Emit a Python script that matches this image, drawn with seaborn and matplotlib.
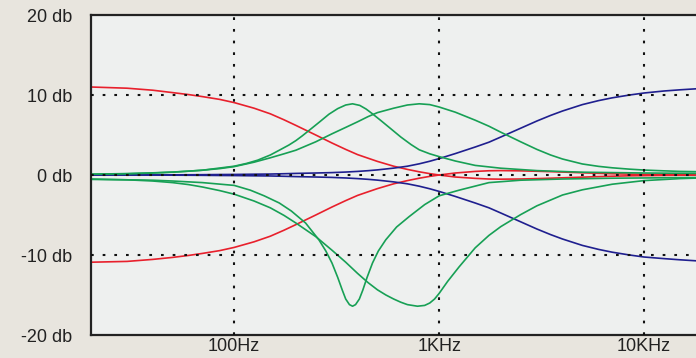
import matplotlib
matplotlib.use("Agg")
import matplotlib.pyplot as plt
from matplotlib.ticker import NullLocator
import pandas as pd
import seaborn as sns

# --- curve data: frequency in Hz, gain in dB ---
shelf_hz = [20, 30, 40, 50, 60, 70, 85, 100, 125, 150, 175, 200, 250, 300,
            350, 400, 450, 500, 600, 700, 800, 900, 1000, 1200, 1500, 1750,
            2000, 2500, 3000, 3500, 4000, 5000, 6000, 7000, 8500, 10000,
            12500, 15000, 20000]
low_boost = [11.0, 10.85, 10.6, 10.3, 10.05, 9.8, 9.45, 9.05, 8.35, 7.65, 6.9,
             6.2, 5.0, 4.0, 3.2, 2.55, 2.1, 1.7, 1.1, 0.7, 0.4, 0.17, 0.0,
             -0.25, -0.42, -0.5, -0.52, -0.5, -0.45, -0.4, -0.35, -0.27, -0.2,
             -0.15, -0.1, -0.08, -0.05, -0.03, 0.0]
low_cut = [-10.9, -10.8, -10.55, -10.3, -10.05, -9.8, -9.45, -9.05, -8.35,
           -7.65, -6.9, -6.2, -5.0, -4.0, -3.2, -2.55, -2.1, -1.7, -1.1, -0.7,
           -0.4, -0.17, 0.0, 0.25, 0.45, 0.53, 0.55, 0.52, 0.47, 0.42, 0.37,
           0.28, 0.21, 0.16, 0.11, 0.08, 0.05, 0.03, 0.0]
high_boost = [0.0, 0.0, 0.01, 0.02, 0.03, 0.04, 0.06, 0.07, 0.1, 0.12, 0.16,
              0.2, 0.25, 0.3, 0.37, 0.45, 0.54, 0.64, 0.86, 1.1, 1.4, 1.72,
              2.05, 2.68, 3.5, 4.1, 4.75, 5.85, 6.75, 7.45, 8.0, 8.8, 9.3,
              9.65, 10.0, 10.25, 10.5, 10.65, 10.85]
high_cut = [0.0, 0.0, -0.01, -0.02, -0.03, -0.04, -0.06, -0.07, -0.1, -0.12,
            -0.16, -0.2, -0.25, -0.3, -0.37, -0.45, -0.54, -0.64, -0.86, -1.1,
            -1.4, -1.72, -2.05, -2.68, -3.5, -4.1, -4.75, -5.85, -6.75, -7.45,
            -8.0, -8.8, -9.3, -9.65, -10.0, -10.25, -10.45, -10.6, -10.8]
wide_boost = [0.1, 0.18, 0.27, 0.37, 0.48, 0.6, 0.8, 1.05, 1.6, 2.15, 2.65,
              3.1, 4.15, 5.15, 5.95, 6.65, 7.3, 7.8, 8.35, 8.75, 8.9, 8.8, 8.5,
              7.85, 6.85, 6.1, 5.35, 4.15, 3.2, 2.5, 2.0, 1.38, 1.08, 0.9,
              0.73, 0.62, 0.52, 0.45, 0.4]

narrow_boost_hz = [20, 30, 40, 50, 70, 100, 115, 130, 150, 166, 185, 200, 215,
                   230, 260, 290, 320, 350, 378, 410, 440, 470, 520, 580, 650,
                   730, 800, 900, 1000, 1200, 1500, 2000, 3000, 5000, 10000,
                   20000]
narrow_boost = [0.1, 0.15, 0.25, 0.35, 0.6, 1.1, 1.45, 1.85, 2.5, 3.1, 3.75,
                4.3, 4.9, 5.5, 6.6, 7.6, 8.3, 8.75, 8.9, 8.7, 8.25, 7.7, 6.8,
                5.8, 4.75, 3.8, 3.15, 2.65, 2.3, 1.75, 1.2, 0.85, 0.55, 0.35,
                0.25, 0.2]

narrow_cut_hz = [20, 30, 40, 50, 70, 100, 120, 140, 166, 190, 223, 259, 280,
                 300, 320, 337, 350, 365, 378, 391, 408, 424, 445, 473, 505,
                 549, 620, 714, 850, 1000, 1250, 1750, 2500, 4000, 7000,
                 12000, 20000]
narrow_cut = [-0.55, -0.6, -0.65, -0.75, -0.95, -1.3, -1.9, -2.6, -3.5, -4.5,
              -6.0, -8.1, -9.5, -11.0, -12.8, -14.4, -15.5, -16.2, -16.4,
              -16.2, -15.5, -14.4, -12.8, -11.0, -9.5, -8.1, -6.5, -5.2, -3.7,
              -2.6, -1.9, -0.95, -0.65, -0.5, -0.4, -0.35, -0.3]

wide_cut_hz = [20, 30, 40, 50, 60, 70, 85, 100, 125, 150, 175, 200, 250, 300,
               350, 400, 450, 500, 550, 600, 650, 700, 784, 850, 900, 950,
               1000, 1100, 1250, 1500, 1750, 2000, 2500, 3000, 4000, 5000,
               7000, 10000, 15000, 20000]
wide_cut = [-0.5, -0.6, -0.75, -0.95, -1.2, -1.5, -1.95, -2.4, -3.25, -4.1,
            -5.05, -6.0, -7.7, -9.4, -10.9, -12.3, -13.45, -14.35, -15.0,
            -15.5, -15.9, -16.2, -16.4, -16.3, -16.0, -15.5, -14.8, -13.3,
            -11.5, -9.1, -7.55, -6.45, -4.95, -3.85, -2.5, -1.85, -1.15, -0.7,
            -0.45, -0.35]

y_ticks = [-20, -10, 0, 10, 20]
y_labels = ["-20 db", "-10 db", "0 db", "10 db", "20 db"]
x_ticks = [100, 1000, 10000]
x_labels = ["100Hz", "1KHz", "10KHz"]

RED = "#e8202c"
GREEN = "#17a055"
BLUE = "#1f1f8f"

curves = [
    ("low boost", shelf_hz, low_boost, RED),
    ("low cut", shelf_hz, low_cut, RED),
    ("high boost", shelf_hz, high_boost, BLUE),
    ("high cut", shelf_hz, high_cut, BLUE),
    ("wide boost", shelf_hz, wide_boost, GREEN),
    ("narrow boost", narrow_boost_hz, narrow_boost, GREEN),
    ("narrow cut", narrow_cut_hz, narrow_cut, GREEN),
    ("wide cut", wide_cut_hz, wide_cut, GREEN),
]

frames = []
for name, hz, db, _ in curves:
    frames.append(pd.DataFrame({"hz": hz, "db": db, "curve": name}))
df = pd.concat(frames, ignore_index=True)
palette = {name: color for name, _, _, color in curves}

sns.set_style("white")
plt.rcParams["font.family"] = ["Liberation Sans", "DejaVu Sans"]

fig = plt.figure(figsize=(6.96, 3.58), dpi=100, facecolor="#e8e5de")
ax = fig.add_axes([0.1307, 0.0642, 0.8833, 0.8939])
ax.set_facecolor("#eef0ef")

sns.lineplot(data=df, x="hz", y="db", hue="curve", palette=palette,
             estimator=None, sort=True, linewidth=1.2, legend=False, ax=ax)

ax.set_xscale("log")
ax.set_xlim(20, 20000)
ax.set_ylim(-20, 20)

# dotted grid drawn over the curves
dots = (0, (1.3, 4.3))
for v in [-10, 0, 10]:
    ax.axhline(v, color="#111111", lw=1.5, ls=dots, zorder=5)
for v in x_ticks:
    ax.axvline(v, color="#111111", lw=1.5, ls=dots, zorder=5)

ax.set_yticks(y_ticks, y_labels)
ax.set_xticks(x_ticks, x_labels)
ax.xaxis.set_minor_locator(NullLocator())
ax.tick_params(axis="both", length=0, labelsize=13, colors="#222222")
ax.tick_params(axis="y", pad=13.5)
ax.tick_params(axis="x", pad=2.5)
ax.set_xlabel("")
ax.set_ylabel("")

for side in ["left", "top", "bottom"]:
    ax.spines[side].set_visible(True)
    ax.spines[side].set_color("#222222")
    ax.spines[side].set_linewidth(1.6)
ax.spines["right"].set_visible(False)

fig.savefig("out.png", dpi=100, facecolor=fig.get_facecolor())
